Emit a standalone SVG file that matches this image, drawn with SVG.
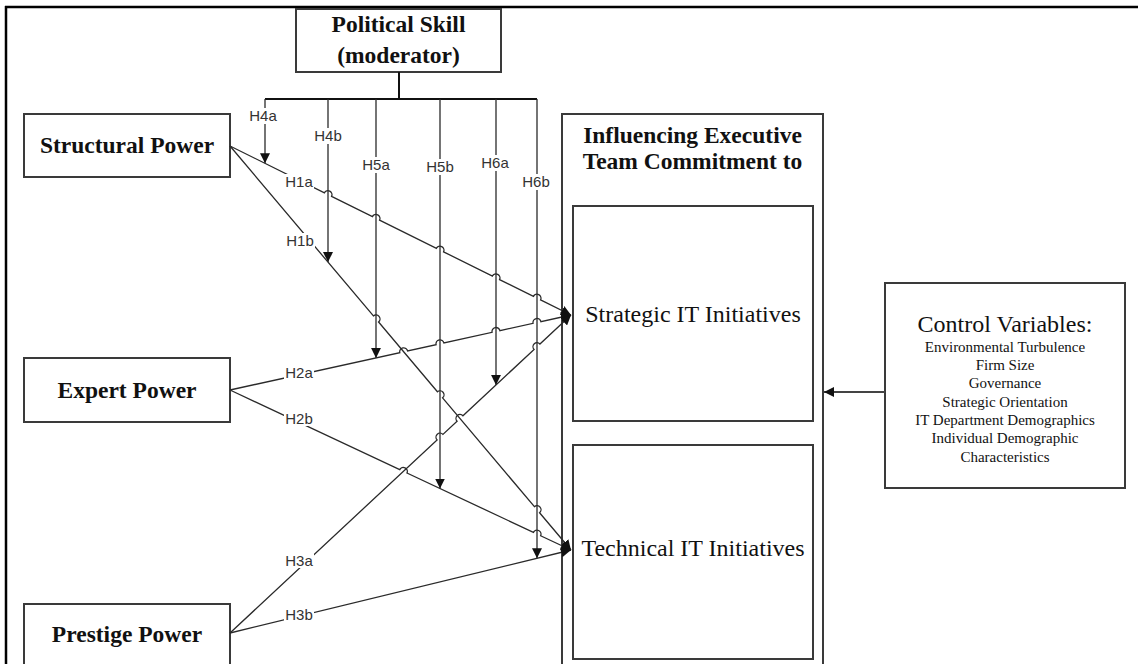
<svg xmlns="http://www.w3.org/2000/svg" width="1138" height="664" viewBox="0 0 1138 664">
  <style>
    .box { fill: #ffffff; stroke: #3a3a3a; stroke-width: 2; }
    .title { font-family: "Liberation Serif", "Times New Roman", serif; font-weight: bold; font-size: 23.5px; fill: #111; text-anchor: middle; }
    .plain { font-family: "Liberation Serif", "Times New Roman", serif; fill: #111; text-anchor: middle; }
    .conn { fill: none; stroke: #2a2a2a; stroke-width: 1.3; }
    .drop { fill: none; stroke: #2a2a2a; stroke-width: 1.3; marker-end: url(#tip); }
    .bus { fill: none; stroke: #111; stroke-width: 2; }
    .lbl { font-family: "Liberation Sans", Arial, sans-serif; font-size: 15px; fill: #333; text-anchor: middle; }
    .lblbg { fill: #ffffff; }
  </style>
  <defs>
    <marker id="tip" markerUnits="userSpaceOnUse" markerWidth="12" markerHeight="10" refX="10" refY="5" orient="auto">
      <path d="M0,0 L10,5 L0,10 z" fill="#111"/>
    </marker>
  </defs>

  <!-- page frame -->
  <g id="frame">
    <line x1="5" y1="7" x2="1138" y2="7" stroke="#000" stroke-width="2.5"/>
    <line x1="6" y1="6" x2="6" y2="664" stroke="#000" stroke-width="2.5"/>
  </g>

  <!-- nodes -->
  <g id="political-skill">
    <rect class="box" x="296" y="9" width="205" height="63"/>
    <text class="title" x="398.5" y="32">Political Skill</text>
    <text class="title" x="398.5" y="63">(moderator)</text>
  </g>
  <g id="structural-power">
    <rect class="box" x="24" y="114" width="206" height="63"/>
    <text class="title" x="127" y="153">Structural Power</text>
  </g>
  <g id="expert-power">
    <rect class="box" x="24" y="358" width="206" height="64"/>
    <text class="title" x="127" y="398">Expert Power</text>
  </g>
  <g id="prestige-power">
    <rect class="box" x="24" y="604" width="206" height="100"/>
    <text class="title" x="127" y="642">Prestige Power</text>
  </g>
  <g id="commitment">
    <rect class="box" x="562" y="114" width="261" height="600"/>
    <text class="title" x="692.5" y="143">Influencing Executive</text>
    <text class="title" x="692.5" y="169">Team Commitment to</text>
  </g>
  <g id="strategic-it">
    <rect class="box" x="573" y="206" width="240" height="215"/>
    <text class="plain" x="693" y="322" font-size="24">Strategic IT Initiatives</text>
  </g>
  <g id="technical-it">
    <rect class="box" x="573" y="445" width="240" height="214"/>
    <text class="plain" x="693" y="556" font-size="24">Technical IT Initiatives</text>
  </g>
  <g id="control-variables">
    <rect class="box" x="885" y="283" width="240" height="205"/>
    <text class="plain" x="1005" y="332" font-size="24">Control Variables:</text>
    <text class="plain" x="1005" y="352" font-size="15">Environmental Turbulence</text>
    <text class="plain" x="1005" y="370" font-size="15">Firm Size</text>
    <text class="plain" x="1005" y="388" font-size="15">Governance</text>
    <text class="plain" x="1005" y="407" font-size="15">Strategic Orientation</text>
    <text class="plain" x="1005" y="425" font-size="15">IT Department Demographics</text>
    <text class="plain" x="1005" y="443" font-size="15">Individual Demographic</text>
    <text class="plain" x="1005" y="462" font-size="15">Characteristics</text>
  </g>

  <!-- connectors -->
  <g id="connectors">
    <!-- moderator stem and bus -->
    <line class="bus" x1="399" y1="72" x2="399" y2="99" stroke-width="3"/>
    <line class="bus" x1="265" y1="99" x2="537" y2="99"/>

    <!-- moderator drops onto the power paths -->
    <line class="drop" x1="265" y1="99" x2="265" y2="163.3"/>
    <line class="drop" x1="328" y1="99" x2="328" y2="262.1"/>
    <line class="drop" x1="376" y1="99" x2="376" y2="357.9"/>
    <line class="drop" x1="440" y1="99" x2="440" y2="488.5"/>
    <line class="drop" x1="496" y1="99" x2="496" y2="384.9"/>
    <line class="drop" x1="537" y1="99" x2="537" y2="558.3"/>

    <!-- H1a: structural -> strategic -->
    <path class="drop" d="M230,146 L324.42,192.79 A4,4 0 0 1 331.58,196.35 L372.42,216.58 A4,4 0 0 1 379.58,220.14 L436.42,248.30 A4,4 0 0 1 443.58,251.86 L492.42,276.05 A4,4 0 0 1 499.58,279.61 L533.42,296.37 A4,4 0 0 1 540.58,299.93 L571,315"/>
    <!-- H1b: structural -> technical -->
    <path class="drop" d="M230,146 L373.42,315.92 A4,4 0 0 1 378.58,322.04 L437.42,391.74 A4,4 0 0 1 442.58,397.86 L534.42,506.67 A4,4 0 0 1 539.58,512.79 L571,550"/>
    <!-- H2a: expert -> strategic -->
    <path class="drop" d="M230,390 L399.79,352.66 A4,4 0 0 1 407.61,350.94 L436.09,344.68 A4,4 0 0 1 443.91,342.96 L492.09,332.36 A4,4 0 0 1 499.91,330.64 L533.09,323.35 A4,4 0 0 1 540.91,321.63 L571,315"/>
    <!-- H2b: expert -> technical -->
    <path class="drop" d="M230,390 L399.73,469.64 A4,4 0 0 1 406.97,473.04 L533.38,532.34 A4,4 0 0 1 540.62,535.74 L571,550"/>
    <!-- H3a: prestige -> strategic -->
    <path class="drop" d="M230,633 L437.08,439.89 A4,4 0 0 1 442.93,434.43 L457.08,421.23 A4,4 0 0 1 462.93,415.77 L534.08,349.42 A4,4 0 0 1 539.93,343.96 L571,315"/>
    <!-- H3b: prestige -> technical -->
    <path class="drop" d="M230,633 L571,550"/>

    <!-- control variables -> commitment -->
    <line x1="885" y1="392" x2="824" y2="392" stroke="#444" stroke-width="2" marker-end="url(#tip)"/>

    <!-- hypothesis labels -->
    <g id="labels">
      <rect class="lblbg" x="248" y="108" width="30" height="16"/>
      <text class="lbl" x="263" y="121">H4a</text>
      <rect class="lblbg" x="313" y="128" width="30" height="16"/>
      <text class="lbl" x="328" y="141">H4b</text>
      <rect class="lblbg" x="361" y="157" width="30" height="16"/>
      <text class="lbl" x="376" y="170">H5a</text>
      <rect class="lblbg" x="425" y="159" width="30" height="16"/>
      <text class="lbl" x="440" y="172">H5b</text>
      <rect class="lblbg" x="480" y="155" width="30" height="16"/>
      <text class="lbl" x="495" y="168">H6a</text>
      <rect class="lblbg" x="521" y="174" width="30" height="16"/>
      <text class="lbl" x="536" y="187">H6b</text>

      <rect class="lblbg" x="284" y="174" width="30" height="15"/>
      <text class="lbl" x="299" y="187">H1a</text>
      <rect class="lblbg" x="285" y="233" width="30" height="15"/>
      <text class="lbl" x="300" y="246">H1b</text>
      <rect class="lblbg" x="284" y="365" width="30" height="15"/>
      <text class="lbl" x="299" y="378">H2a</text>
      <rect class="lblbg" x="284" y="411" width="30" height="15"/>
      <text class="lbl" x="299" y="424">H2b</text>
      <rect class="lblbg" x="284" y="553" width="30" height="15"/>
      <text class="lbl" x="299" y="566">H3a</text>
      <rect class="lblbg" x="284" y="607" width="30" height="15"/>
      <text class="lbl" x="299" y="620">H3b</text>
    </g>
  </g>
</svg>
